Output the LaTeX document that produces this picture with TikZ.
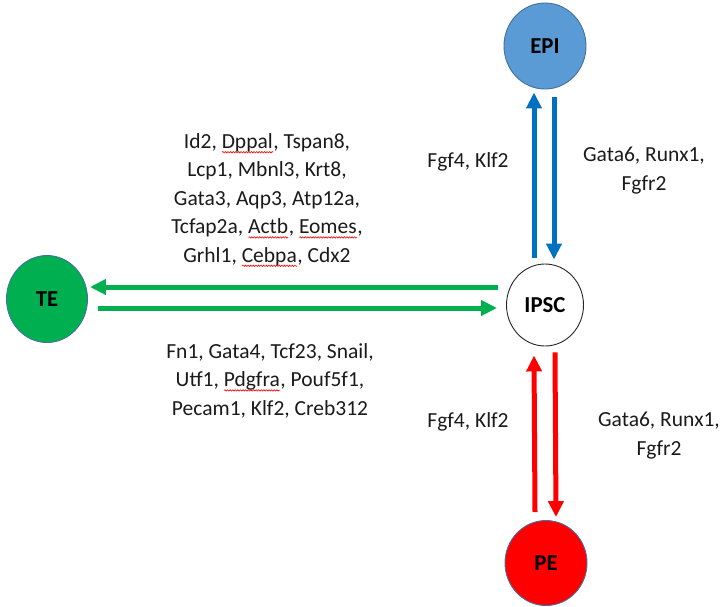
\documentclass[tikz,border=0pt]{standalone}
\usepackage{fontspec}
\setmainfont{Carlito}
\usetikzlibrary{arrows.meta,shapes.geometric,calc,decorations.pathmorphing}

\definecolor{epiblue}{HTML}{5B9BD5}
\definecolor{outlineblue}{HTML}{41719C}
\definecolor{tegreen}{HTML}{00B050}
\definecolor{pered}{HTML}{FF0000}
\definecolor{arrowblue}{HTML}{0070C0}
\definecolor{textgrey}{HTML}{1A1A1A}

% red wavy underline used by the word processor's spell checker
\newlength\sqwidth
\newcommand\spellmark[1]{\settowidth\sqwidth{#1}\rlap{#1}\tikz[baseline=0pt,x=1pt,y=1pt]\draw[red,line width=0.6pt,decorate,decoration={snake,amplitude=0.7pt,segment length=2.6pt}](0,-3.8)--(\sqwidth,-3.8);}

\tikzset{
  cell/.style={ellipse, draw=outlineblue, line width=0.9pt, inner sep=0pt,
    font=\fontsize{22.8}{28}\selectfont\bfseries, text=black},
  genes/.style={align=center, anchor=base, inner sep=0pt, text=textgrey},
  flow/.style={line width=5pt, -{Triangle[length=16pt,width=15pt]}}
}

\begin{document}
\begin{tikzpicture}[x=1pt, y=-1pt, font=\fontsize{21.5}{28.4}\selectfont]
\useasboundingbox (0,0) rectangle (725,606);

% cell populations
\node[cell, fill=epiblue, minimum width=82pt, minimum height=86pt] (epi) at (545,46) {EPI};
\node[cell, draw=black!85, fill=white, minimum width=77pt, minimum height=82pt] (ipsc) at (545,305) {IPSC};
\node[cell, fill=tegreen, minimum width=81pt, minimum height=87pt] (te) at (47,299) {TE};
\node[cell, fill=pered, minimum width=82pt, minimum height=85pt] (pe) at (546,563) {PE};

% transitions
\draw[flow, arrowblue] ($(ipsc.north)+(-11,-6)$) -- ($(epi.south)+(-11,3)$);
\draw[flow, arrowblue] ($(epi.south)+(9,8)$) -- ($(ipsc.north)+(9,-4)$);
\draw[flow, pered] ($(pe.north)+(-11,-8)$) -- ($(ipsc.south)+(-11,9)$);
\draw[flow, pered] ($(ipsc.south)+(10,6)$) -- ($(pe.north)+(10,-3)$);
\draw[flow, tegreen] ($(ipsc.west)+(-8,-18)$) -- ($(te.east)+(2,-12)$);
\draw[flow, tegreen] ($(te.east)+(10,9)$) -- ($(ipsc.west)+(-9,3)$);

% gene lists (positioned at the baseline of their last line)
\node[genes] (teup) at (267,262) {Id2, \spellmark{Dppal}, Tspan8,\\Lcp1, Mbnl3, Krt8,\\Gata3, Aqp3, Atp12a,\\Tcfap2a, \spellmark{Actb}, \spellmark{Eomes},\\Grhl1, \spellmark{Cebpa}, Cdx2};
\node[genes] (tedown) at (270,415) {Fn1, Gata4, Tcf23, Snail,\\Utf1, \spellmark{Pdgfra}, Pouf5f1,\\Pecam1, Klf2, Creb312};
\node[genes] (epiup) at (468,167) {Fgf4, Klf2};
\node[genes] (epidown) at (644,190) {Gata6, Runx1,\\Fgfr2};
\node[genes] (peup) at (468,427) {Fgf4, Klf2};
\node[genes] (pedown) at (659,455) {Gata6, Runx1,\\Fgfr2};
\end{tikzpicture}
\end{document}
